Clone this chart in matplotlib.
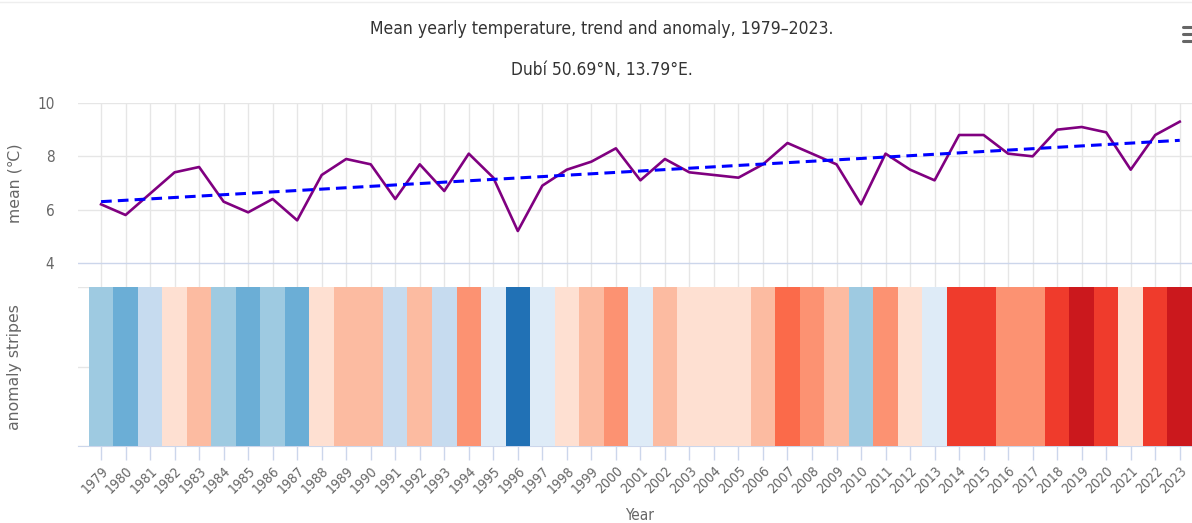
import numpy as np
import matplotlib
matplotlib.use("Agg")
import matplotlib.pyplot as plt
from matplotlib.colors import ListedColormap, BoundaryNorm
from matplotlib.lines import Line2D

# data
years = list(range(1979, 2024))
mean_temp = [6.2, 5.8, 6.6, 7.4, 7.6, 6.3, 5.9, 6.4, 5.6, 7.3,
             7.9, 7.7, 6.4, 7.7, 6.7, 8.1, 7.2, 5.2, 6.9, 7.5,
             7.8, 8.3, 7.1, 7.9, 7.4, 7.3, 7.2, 7.7, 8.5, 8.1,
             7.7, 6.2, 8.1, 7.5, 7.1, 8.8, 8.8, 8.1, 8.0, 9.0,
             9.1, 8.9, 7.5, 8.8, 9.3]
trend_years = [1979, 2023]
trend_vals = [6.3, 8.6]
# anomaly class of each stripe (-6 coldest ... +6 warmest)
stripe_level = [-3, -4, -2, 1, 2, -3, -4, -3, -4, 1,
                2, 2, -2, 2, -2, 3, -1, -6, -1, 1,
                2, 3, -1, 2, 1, 1, 1, 2, 4, 3,
                2, -3, 3, 1, -1, 5, 5, 3, 3, 5,
                6, 5, 1, 5, 6]

title = "Mean yearly temperature, trend and anomaly, 1979\u20132023."
subtitle = "Dub\u00ed 50.69\u00b0N, 13.79\u00b0E."

stripe_colors = ['#2171b5', '#4292c6', '#6baed6', '#9ecae1', '#c6dbef', '#deebf7', '#ffffff',
                 '#fee0d2', '#fcbba1', '#fc9272', '#fb6a4a', '#ef3b2c', '#cb181d']
cmap = ListedColormap(stripe_colors)
norm = BoundaryNorm(np.arange(-6.5, 7.5, 1), cmap.N)

cond = dict(family='DejaVu Sans', stretch='condensed')
grid_c = '#e6e6e6'
axis_c = '#ccd6eb'
lab_c = '#666666'

W, H = 1192, 523
fig = plt.figure(figsize=(W / 100, H / 100), dpi=100)

x0 = 78 / W
xlim = (1978.06, 2023.5)

# top panel: mean and trend
ax1 = fig.add_axes([x0, 1 - 287 / H, 1 - x0, (287 - 103) / H])
ax1.plot(years, mean_temp, color='#800080', lw=1.9, zorder=3)
ax1.plot(trend_years, trend_vals, color='#0000ff', lw=2.2, ls=(0, (3.5, 2)), zorder=4)
ax1.set_xlim(*xlim)
ax1.set_ylim(3.1, 10)
ax1.set_yticks([4, 6, 8, 10])
ax1.set_xticks(years)
ax1.tick_params(axis='x', length=0, labelbottom=False)
ax1.tick_params(axis='y', length=0, pad=17, labelsize=11, labelcolor=lab_c)
for lb in ax1.get_yticklabels():
    lb.set_fontstretch('condensed')
ax1.grid(True, color=grid_c, lw=1)
ax1.get_ygridlines()[0].set_color(axis_c)
for s in ax1.spines.values():
    s.set_visible(False)
ax1.set_axisbelow(True)
fig.text(15 / W, 1 - 183 / H, "mean (\u2103)", rotation=90, ha='center', va='center',
         color=lab_c, fontsize=11.3)

# bottom panel: anomaly stripes
ax2 = fig.add_axes([x0, 1 - 446 / H, 1 - x0, (446 - 287) / H])
ax2.bar(years, 2, width=1.0, bottom=0, color=cmap(norm(stripe_level)), lw=0, zorder=3)
ax2.set_xlim(*xlim)
ax2.set_ylim(0, 2)
ax2.set_yticks([0, 1, 2])
ax2.tick_params(axis='y', length=0, labelleft=False)
ax2.grid(True, axis='y', color=grid_c, lw=1)
ax2.set_xticks(years)
ax2.set_xticklabels([str(y) for y in years], rotation=45, ha='right',
                    rotation_mode='anchor', fontsize=10, color=lab_c, **cond)
ax2.tick_params(axis='x', length=10, width=1, color=axis_c, pad=3)
for s in ['top', 'left', 'right']:
    ax2.spines[s].set_visible(False)
ax2.spines['bottom'].set_color(axis_c)
ax2.set_axisbelow(True)
fig.text(15 / W, 1 - 367 / H, "anomaly stripes", rotation=90, ha='center', va='center',
         color=lab_c, fontsize=11.3)
fig.text(640 / W, 1 - 515 / H, "Year", ha='center', va='center', color=lab_c,
         fontsize=11, **cond)

# titles
fig.text(602 / W, 1 - 29 / H, title, ha='center', va='center', color='#333333',
         fontsize=12.6, **cond)
fig.text(602 / W, 1 - 70 / H, subtitle, ha='center', va='center', color='#333333',
         fontsize=12.4, **cond)

# menu icon and top border
for yy in [27, 34, 41]:
    fig.add_artist(Line2D([1183 / W, 1.0], [1 - yy / H, 1 - yy / H], color=lab_c,
                          lw=2.2, solid_capstyle='round'))
fig.add_artist(Line2D([0, 1], [1 - 2 / H, 1 - 2 / H], color='#eeeeee', lw=1))

fig.savefig("out.png", dpi=100)
